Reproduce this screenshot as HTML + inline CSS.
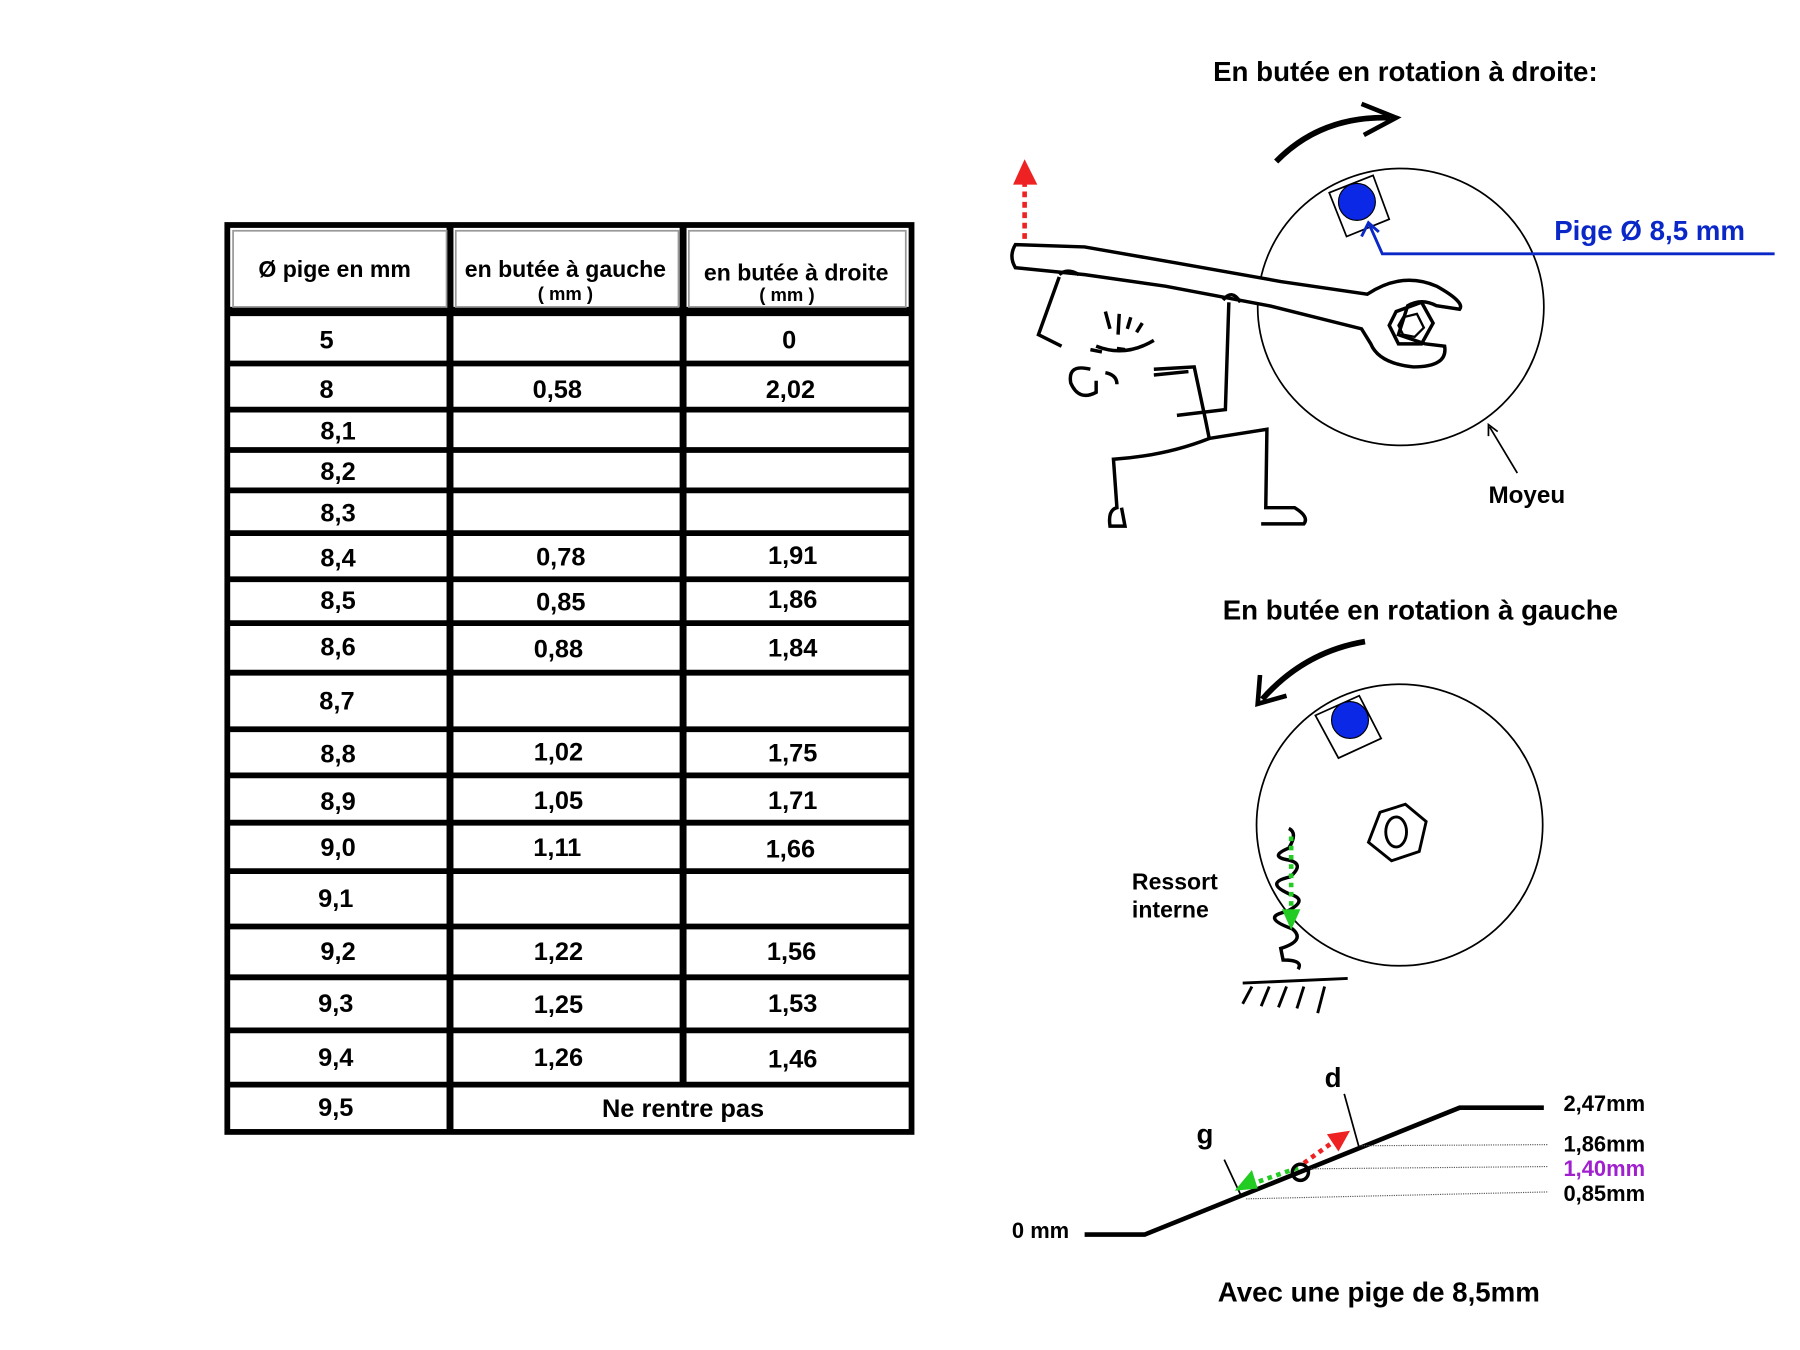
<!DOCTYPE html>
<html><head><meta charset="utf-8"><style>
html,body{margin:0;padding:0;background:#fff}
svg{display:block}
text{font-family:"Liberation Sans",sans-serif;font-weight:bold}
</style></head><body>
<svg width="1800" height="1350" viewBox="0 0 1560 1170" xmlns="http://www.w3.org/2000/svg">
<rect width="1560" height="1170" fill="#fff"/>
<!-- TABLE -->
<g stroke="#000" fill="none">
<rect x="197" y="195" width="593" height="786" stroke-width="5"/>
<g stroke-width="6">
<line x1="390" y1="195" x2="390" y2="981"/>
<line x1="592" y1="195" x2="592" y2="940"/>
<line x1="197" y1="270" x2="792" y2="270" stroke-width="8"/>
</g>
<g stroke-width="5">
<line x1="197" y1="315" x2="790" y2="315"/>
<line x1="197" y1="355" x2="790" y2="355"/>
<line x1="197" y1="390" x2="790" y2="390"/>
<line x1="197" y1="425" x2="790" y2="425"/>
<line x1="197" y1="462" x2="790" y2="462"/>
<line x1="197" y1="502" x2="790" y2="502"/>
<line x1="197" y1="540" x2="790" y2="540"/>
<line x1="197" y1="583" x2="790" y2="583"/>
<line x1="197" y1="632" x2="790" y2="632"/>
<line x1="197" y1="672" x2="790" y2="672"/>
<line x1="197" y1="713" x2="790" y2="713"/>
<line x1="197" y1="755" x2="790" y2="755"/>
<line x1="197" y1="803" x2="790" y2="803"/>
<line x1="197" y1="847" x2="790" y2="847"/>
<line x1="197" y1="893" x2="790" y2="893"/>
<line x1="197" y1="940" x2="790" y2="940"/>
</g>
<g stroke="#999" stroke-width="1.5">
<rect x="202" y="200" width="185" height="66"/><rect x="395" y="200" width="193" height="66"/><rect x="597" y="200" width="188" height="66"/>
</g>
</g>
<g font-size="20" text-anchor="middle" fill="#000">
<text x="290" y="240">Ø pige en mm</text>
<text x="490" y="240">en butée à gauche</text>
<text x="490" y="260" font-size="16">( mm )</text>
<text x="690" y="243">en butée à droite</text>
<text x="682" y="261" font-size="16">( mm )</text>
</g>
<g font-size="22" text-anchor="middle" fill="#000">
<text x="283" y="302">5</text><text x="684" y="302">0</text>
<text x="283" y="345">8</text><text x="483" y="345">0,58</text><text x="685" y="345">2,02</text>
<text x="293" y="381">8,1</text>
<text x="293" y="416">8,2</text>
<text x="293" y="452">8,3</text>
<text x="293" y="491">8,4</text><text x="486" y="490">0,78</text><text x="687" y="489">1,91</text>
<text x="293" y="528">8,5</text><text x="486" y="529">0,85</text><text x="687" y="527">1,86</text>
<text x="293" y="568">8,6</text><text x="484" y="570">0,88</text><text x="687" y="569">1,84</text>
<text x="292" y="615">8,7</text>
<text x="293" y="661">8,8</text><text x="484" y="659">1,02</text><text x="687" y="660">1,75</text>
<text x="293" y="702">8,9</text><text x="484" y="701">1,05</text><text x="687" y="701">1,71</text>
<text x="293" y="742">9,0</text><text x="483" y="742">1,11</text><text x="685" y="743">1,66</text>
<text x="291" y="786">9,1</text>
<text x="293" y="832">9,2</text><text x="484" y="832">1,22</text><text x="686" y="832">1,56</text>
<text x="291" y="877">9,3</text><text x="484" y="878">1,25</text><text x="687" y="877">1,53</text>
<text x="291" y="924">9,4</text><text x="484" y="924">1,26</text><text x="687" y="925">1,46</text>
<text x="291" y="967">9,5</text><text x="592" y="968">Ne rentre pas</text>
</g>
<!-- TOP DRAWING -->
<text x="1218" y="70" font-size="24" text-anchor="middle">En butée en rotation à droite:</text>
<path d="M1106,140 Q1145,100 1205,102" stroke="#000" stroke-width="5" fill="none"/>
<path d="M1180,90 L1210,102 L1182,117" stroke="#000" stroke-width="4" fill="none"/>
<ellipse cx="1214" cy="266" rx="124" ry="120" stroke="#000" stroke-width="1.5" fill="none"/>
<polygon points="1152,167 1190,152 1204,190 1167,205" stroke="#000" stroke-width="1.5" fill="#fff"/>
<circle cx="1176" cy="175" r="16" fill="#0a28e6" stroke="#000" stroke-width="1"/>
<path d="M1186,193 L1198,220 L1538,220" stroke="#0a28c8" stroke-width="2.5" fill="none"/>
<path d="M1180,205 L1186,193 L1195,201" stroke="#0a28c8" stroke-width="2.5" fill="none"/>
<text x="1347" y="208" font-size="24" fill="#0a28c8">Pige Ø 8,5 mm</text>
<line x1="888" y1="225" x2="888" y2="158" stroke="#e22" stroke-width="4" stroke-dasharray="5,4"/>
<polygon points="878,160 888,138 899,160" fill="#e22"/>
<!-- wrench -->
<path d="M880,212 L940,214 L1020,228 L1110,244 L1185,255 Q1215,235 1245,248 Q1270,262 1265,268 L1245,265 Q1232,258 1220,265 L1212,290 L1235,298 L1252,300 Q1255,318 1225,318 Q1195,315 1188,298 L1180,285 L1100,265 L1010,248 L940,238 L880,232 Q874,222 880,212 Z" stroke="#000" stroke-width="3" fill="#fff"/>
<polygon points="1210,270 1232,262 1242,280 1232,298 1212,298 1204,282" stroke="#000" stroke-width="3" fill="none"/>
<polygon points="1216,275 1228,272 1234,284 1226,292 1216,290 1212,282" stroke="#000" stroke-width="2" fill="none"/>
<!-- figure -->
<g stroke="#000" stroke-width="3" fill="none">
<path d="M918,240 L900,290 L920,300"/>
<path d="M918,238 Q925,232 935,238"/>
<path d="M1065,262 L1062,355 L1020,360"/>
<path d="M1060,260 Q1068,250 1075,262"/>
<path d="M1000,320 L1035,318 L1045,365 L1048,380 L1098,372 L1097,440 L1122,440 Q1135,448 1130,454 L1093,454"/>
<path d="M1048,380 Q1010,395 965,398 L968,440 Q960,442 962,456 L975,456 L972,440"/>
<path d="M958,270 L962,285 M970,272 L969,290 M980,275 L977,285 M990,280 L985,288"/>
<path d="M950,300 Q975,310 1000,295"/>
<path d="M945,303 L955,305 M968,302 L975,303"/>
<path d="M945,320 Q925,315 928,332 Q935,348 950,340 L950,330"/>
<path d="M958,323 Q968,325 968,333"/>
<path d="M1000,325 L1030,322"/>
</g>
<line x1="1315" y1="410" x2="1291" y2="370" stroke="#000" stroke-width="1.5"/>
<path d="M1290,378 L1290,368 L1298,374" stroke="#000" stroke-width="1.5" fill="none"/>
<text x="1290" y="436" font-size="21">Moyeu</text>
<!-- MIDDLE DRAWING -->
<text x="1231" y="537" font-size="24" text-anchor="middle">En butée en rotation à gauche</text>
<path d="M1183,556 Q1130,565 1094,606" stroke="#000" stroke-width="5" fill="none"/>
<path d="M1092,585 L1090,610 L1115,603" stroke="#000" stroke-width="4" fill="none"/>
<ellipse cx="1213" cy="715" rx="124" ry="122" stroke="#000" stroke-width="1.5" fill="none"/>
<polygon points="1140,620 1178,603 1197,640 1160,657" stroke="#000" stroke-width="1.5" fill="#fff"/>
<circle cx="1170" cy="624" r="16" fill="#0a28e6" stroke="#000" stroke-width="1"/>
<polygon points="1196,704 1218,697 1236,712 1230,738 1206,746 1186,730" stroke="#000" stroke-width="2.5" fill="none"/>
<ellipse cx="1210" cy="721" rx="9" ry="13" stroke="#000" stroke-width="2.5" fill="none"/>
<path d="M1117,718 Q1125,722 1117,735 Q1100,742 1115,745 Q1132,748 1118,760 Q1095,765 1118,775 Q1135,780 1115,790 Q1092,795 1120,805 Q1132,815 1110,822 L1112,832 Q1130,832 1125,840" stroke="#000" stroke-width="3" fill="none"/>
<line x1="1119" y1="725" x2="1119" y2="790" stroke="#2c2" stroke-width="4" stroke-dasharray="4,4"/>
<polygon points="1111,788 1127,788 1119,806" fill="#2c2"/>
<text x="981" y="771" font-size="20">Ressort</text>
<text x="981" y="795" font-size="20">interne</text>
<g stroke="#000" stroke-width="2.5">
<line x1="1077" y1="852" x2="1168" y2="848"/>
<line x1="1085" y1="855" x2="1077" y2="870"/><line x1="1100" y1="855" x2="1093" y2="872"/>
<line x1="1115" y1="855" x2="1108" y2="873"/><line x1="1130" y1="855" x2="1124" y2="874"/>
<line x1="1148" y1="855" x2="1142" y2="878"/>
</g>
<!-- BOTTOM GRAPH -->
<path d="M940,1070 L992,1070 L1265,960 L1338,960" stroke="#000" stroke-width="4" fill="none"/>
<g stroke="#555" stroke-width="1" stroke-dasharray="1,1">
<line x1="1178" y1="993" x2="1342" y2="992"/>
<line x1="1132" y1="1013" x2="1342" y2="1011"/>
<line x1="1080" y1="1039" x2="1342" y2="1033"/>
</g>
<text x="1355" y="963" font-size="19">2,47mm</text>
<text x="1355" y="998" font-size="19">1,86mm</text>
<text x="1355" y="1019" font-size="19" fill="#a020d0">1,40mm</text>
<text x="1355" y="1041" font-size="19">0,85mm</text>
<text x="877" y="1073" font-size="19">0 mm</text>
<text x="1037" y="991" font-size="24">g</text>
<text x="1148" y="942" font-size="24">d</text>
<line x1="1061" y1="1005" x2="1075" y2="1035" stroke="#000" stroke-width="1.5"/>
<line x1="1165" y1="948" x2="1178" y2="995" stroke="#000" stroke-width="1.5"/>
<line x1="1125" y1="1012" x2="1088" y2="1025" stroke="#2c2" stroke-width="4" stroke-dasharray="4,4"/>
<polygon points="1070,1032 1085,1014 1090,1030" fill="#2c2"/>
<line x1="1130" y1="1008" x2="1155" y2="990" stroke="#e22" stroke-width="4" stroke-dasharray="4,4"/>
<polygon points="1170,980 1150,983 1160,998" fill="#e22"/>
<circle cx="1127" cy="1016" r="7" stroke="#000" stroke-width="3" fill="none"/>
<text x="1195" y="1128" font-size="24" text-anchor="middle">Avec une pige de 8,5mm</text>
</svg>
</body></html>
